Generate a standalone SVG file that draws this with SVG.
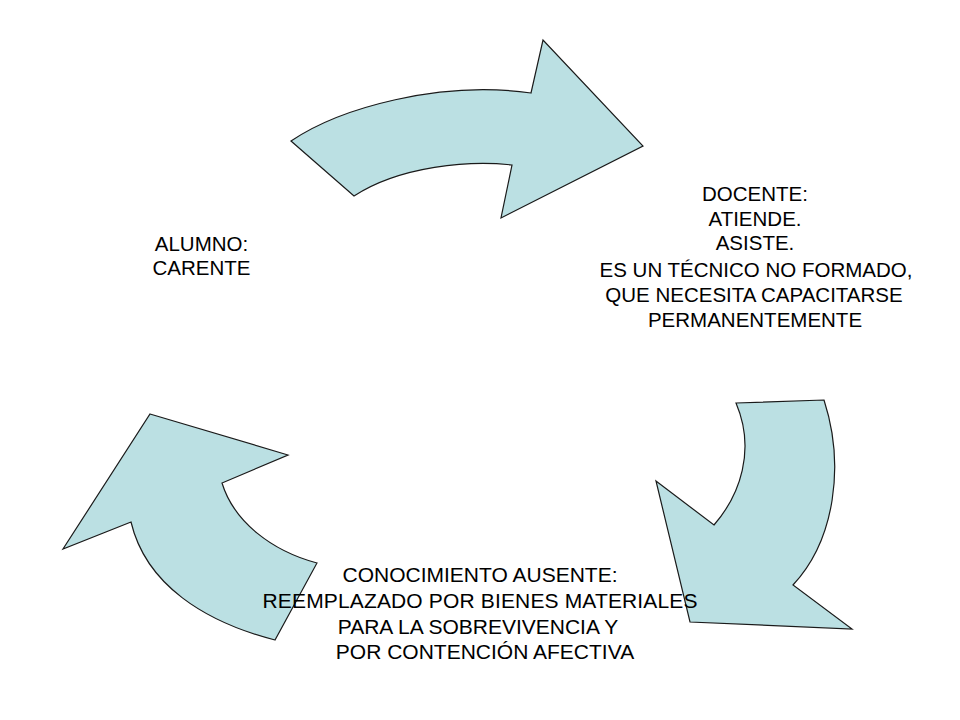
<svg xmlns="http://www.w3.org/2000/svg" width="960" height="720" viewBox="0 0 960 720">
<style>
.arrow{fill:#bbe0e3;stroke:#1a1a1a;stroke-width:1.2;stroke-linejoin:miter}
.t{font-family:"Liberation Sans",Arial,sans-serif;font-size:20.5px;fill:#000;text-anchor:middle}
</style>
<rect width="960" height="720" fill="#fff"/>
<g id="connectors">
<path id="arrow-top" class="arrow" d="M291,141 C340,108 440,80 531,93 L543,40 L643,146 L501,218 L512,165 C470,160 400,166 354,196 Z"/>
<path id="arrow-right" class="arrow" d="M736,403 L824,400 C845,465 835,540 793,585 L852,629 L690,622 L656,481 L714,525 C740,495 756,450 736,403 Z"/>
<path id="arrow-left" class="arrow" d="M150,414 L288,455 L222,483 C234,522 272,551 317,563 L275,640 C205,622 146,585 131,522 L63,549 Z"/>
</g>
<g id="node-docente">
<text class="t" x="755" y="201">DOCENTE:</text>
<text class="t" x="755" y="226">ATIENDE.</text>
<text class="t" x="755" y="250">ASISTE.</text>
<text class="t" x="756" y="277">ES UN TÉCNICO NO FORMADO,</text>
<text class="t" x="754" y="302">QUE NECESITA CAPACITARSE</text>
<text class="t" x="755" y="327">PERMANENTEMENTE</text>
</g>
<g id="node-alumno">
<text class="t" x="201.5" y="251">ALUMNO:</text>
<text class="t" x="201.5" y="275">CARENTE</text>
</g>
<g id="node-conocimiento">
<text class="t" x="480" y="582" style="font-size:21px">CONOCIMIENTO AUSENTE:</text>
<text class="t" x="480" y="608" style="font-size:21px" textLength="435" lengthAdjust="spacing">REEMPLAZADO POR BIENES MATERIALES</text>
<text class="t" x="478" y="634" style="font-size:21px">PARA LA SOBREVIVENCIA Y</text>
<text class="t" x="485" y="659" style="font-size:21px">POR CONTENCIÓN AFECTIVA</text>
</g>
</svg>
